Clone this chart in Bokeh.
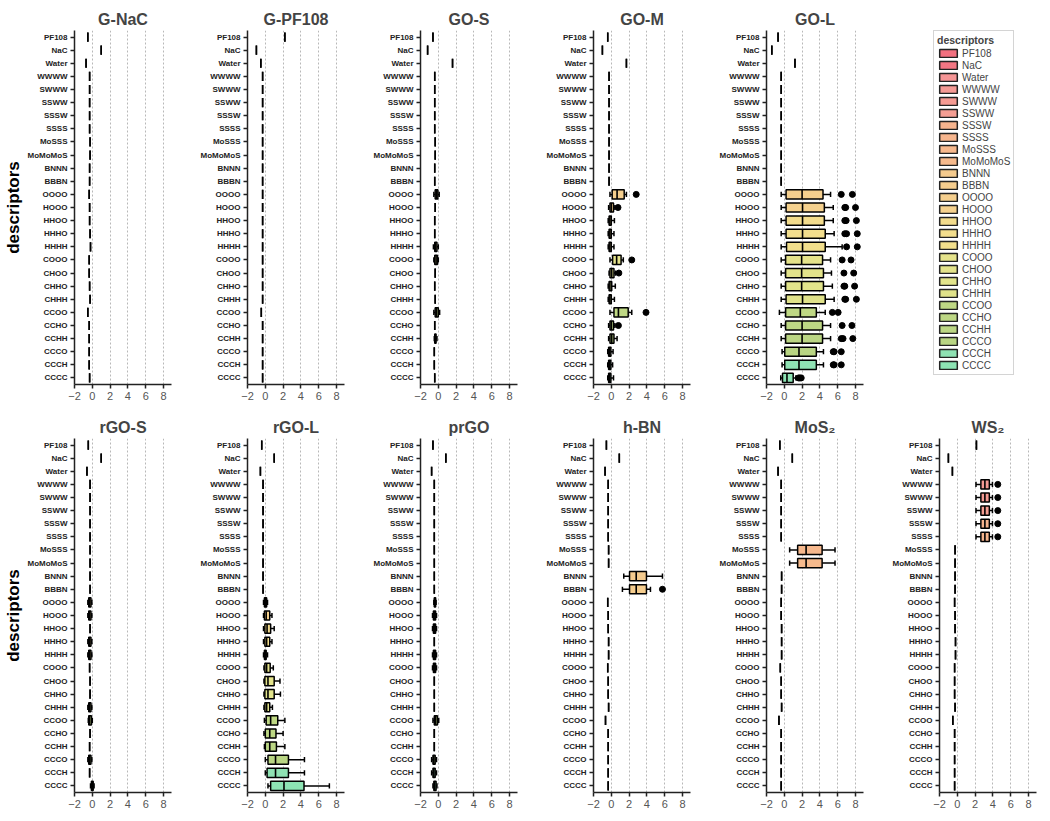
from bokeh.plotting import figure
from bokeh.models import FactorRange, Range1d, ColumnDataSource, Legend, LegendItem, FixedTicker
from bokeh.transform import dodge
from bokeh.layouts import column, row
from bokeh.embed import file_html
from bokeh.resources import INLINE

DESCRIPTORS = ["PF108", "NaC", "Water", "WWWW", "SWWW", "SSWW", "SSSW", "SSSS", "MoSSS", "MoMoMoS",
               "BNNN", "BBBN", "OOOO", "HOOO", "HHOO", "HHHO", "HHHH", "COOO", "CHOO", "CHHO",
               "CHHH", "CCOO", "CCHO", "CCHH", "CCCO", "CCCH", "CCCC"]
COLORS = ["#F2707F", "#F37683", "#F59595", "#F59A95", "#F59B93", "#F59E93", "#F6B48E", "#F6B58D",
          "#F6B88D", "#F6BA8D", "#F5CB8E", "#F5CD8E", "#F5CF8E", "#F5D18E", "#F3DC8D", "#F3DE8D",
          "#F2DF8C", "#E5E38B", "#E3E38B", "#E2E48B", "#E0E28A", "#BFD884", "#BDD784", "#BBD684",
          "#B9D583", "#8FE2B3", "#8DE4B4"]
X_TICKS = [-2, 0, 2, 4, 6, 8]

# single-value marks (one per descriptor, top to bottom)
G_NAC_BASE = [-0.5, 1.0, -0.7, -0.3, -0.3, -0.3, -0.3, -0.3, -0.25, -0.25, -0.3, -0.3, -0.35, -0.3,
              -0.3, -0.25, -0.2, -0.35, -0.35, -0.3, -0.25, -0.5, -0.35, -0.35, -0.35, -0.35, -0.3]
G_PF108_BASE = [2.2, -1.0, -0.5, -0.3, -0.3, -0.3, -0.3, -0.3, -0.3, -0.3, -0.3, -0.3, -0.3, -0.3,
                -0.3, -0.3, -0.3, -0.3, -0.3, -0.3, -0.3, -0.45, -0.3, -0.3, -0.3, -0.3, -0.3]
GO_S_BASE = [-0.6, -1.2, 1.6, -0.4, -0.4, -0.4, -0.4, -0.4, -0.35, -0.35, -0.4, -0.4, -0.3, -0.35,
             -0.4, -0.4, -0.35, -0.3, -0.35, -0.4, -0.35, -0.3, -0.4, -0.35, -0.45, -0.45, -0.4]
GO_M_BASE = [-0.4, -1.0, 1.7, -0.25, -0.25, -0.25, -0.25, -0.25, -0.25, -0.25, -0.25, -0.25, 0.6, 0.0,
             -0.15, -0.15, -0.15, 0.6, 0.05, -0.15, -0.15, 0.8, 0.0, 0.05, -0.2, -0.2, -0.2]
GO_L_BASE = [-0.7, -1.4, 1.2, -0.35, -0.35, -0.35, -0.35, -0.35, -0.35, -0.35, -0.35, -0.35, 2.0, 2.0,
             2.0, 2.0, 2.0, 2.0, 2.0, 2.0, 2.0, 1.8, 2.0, 2.0, 1.65, 1.65, 0.3]
RGO_S_BASE = [-0.45, 1.0, -0.6, -0.25, -0.25, -0.25, -0.25, -0.25, -0.25, -0.25, -0.25, -0.25, -0.3, -0.3,
              -0.25, -0.3, -0.3, -0.3, -0.25, -0.25, -0.3, -0.3, -0.25, -0.3, -0.3, -0.3, 0.0]
RGO_L_BASE = [-0.4, 1.0, -0.55, -0.25, -0.25, -0.25, -0.25, -0.25, -0.25, -0.25, -0.25, -0.25, 0.0, 0.1,
              0.2, 0.15, 0.0, 0.15, 0.3, 0.3, 0.15, 0.6, 0.5, 0.5, 1.15, 1.15, 2.1]
PRGO_BASE = [-0.6, 0.85, -0.75, -0.45, -0.45, -0.45, -0.45, -0.45, -0.45, -0.45, -0.45, -0.45, -0.4, -0.45,
             -0.45, -0.45, -0.45, -0.45, -0.45, -0.45, -0.45, -0.3, -0.45, -0.45, -0.5, -0.5, -0.4]
HBN_BASE = [-0.55, 0.9, -0.7, -0.35, -0.35, -0.35, -0.35, -0.35, -0.3, -0.3, 2.8, 2.8, -0.4, -0.35,
            -0.35, -0.3, -0.3, -0.4, -0.35, -0.35, -0.3, -0.65, -0.35, -0.35, -0.35, -0.35, -0.35]
MOS2_BASE = [-0.5, 0.9, -0.7, -0.35, -0.35, -0.35, -0.35, -0.35, 2.45, 2.45, -0.3, -0.3, -0.35, -0.35,
             -0.3, -0.3, -0.3, -0.45, -0.35, -0.35, -0.3, -0.6, -0.35, -0.35, -0.35, -0.35, -0.35]
WS2_BASE = [2.15, -1.0, -0.55, 3.1, 3.1, 3.1, 3.1, 3.1, -0.25, -0.25, -0.25, -0.25, -0.3, -0.25,
            -0.25, -0.2, -0.2, -0.3, -0.3, -0.3, -0.25, -0.5, -0.3, -0.3, -0.3, -0.3, -0.3]

# box statistics: (whisker low, q1, median, q3, whisker high, outliers)
G_NAC_BOXES = {}
G_PF108_BOXES = {}
GO_S_BOXES = {
    "OOOO": (-0.5, -0.35, -0.2, -0.05, 0.1, []),
    "HHHH": (-0.55, -0.4, -0.3, -0.15, 0.0, []),
    "COOO": (-0.5, -0.4, -0.25, -0.1, 0.0, []),
    "CCOO": (-0.5, -0.35, -0.2, 0.0, 0.15, []),
    "CCHH": (-0.45, -0.4, -0.35, -0.25, -0.15, []),
}
GO_M_BOXES = {
    "OOOO": (-0.15, 0.1, 0.65, 1.45, 1.7, [2.8]),
    "HOOO": (-0.3, -0.15, 0.0, 0.25, 0.4, [0.75]),
    "HHOO": (-0.35, -0.25, -0.15, 0.0, 0.35, []),
    "HHHO": (-0.35, -0.25, -0.15, 0.0, 0.3, []),
    "HHHH": (-0.35, -0.25, -0.15, 0.0, 0.3, []),
    "COOO": (-0.15, 0.15, 0.6, 1.1, 1.35, [2.3]),
    "CHOO": (-0.25, -0.15, 0.05, 0.3, 0.45, [0.85]),
    "CHHO": (-0.35, -0.25, -0.15, 0.05, 0.45, []),
    "CHHH": (-0.35, -0.25, -0.15, 0.0, 0.35, []),
    "CCOO": (-0.15, 0.3, 0.8, 1.9, 2.3, [3.9]),
    "CCHO": (-0.3, -0.15, 0.0, 0.25, 0.4, [0.8]),
    "CCHH": (-0.3, -0.15, 0.05, 0.3, 0.65, []),
    "CCCO": (-0.4, -0.3, -0.2, -0.05, 0.2, []),
    "CCCH": (-0.4, -0.3, -0.2, -0.05, 0.15, []),
    "CCCC": (-0.4, -0.3, -0.2, -0.05, 0.25, []),
}
GO_L_BOXES = {
    "OOOO": (-0.35, 0.2, 2.0, 4.35, 5.2, [6.4, 7.65]),
    "HOOO": (-0.35, 0.2, 2.05, 4.5, 5.5, [6.8, 6.9, 8.0]),
    "HHOO": (-0.35, 0.2, 2.05, 4.5, 5.5, [6.8, 6.95, 8.1]),
    "HHHO": (-0.35, 0.2, 2.05, 4.6, 5.6, [6.8, 7.0, 8.2]),
    "HHHH": (-0.35, 0.25, 2.05, 4.6, 6.5, [7.0, 8.2]),
    "COOO": (-0.35, 0.15, 1.95, 4.3, 5.2, [6.5, 7.5]),
    "CHOO": (-0.35, 0.15, 1.95, 4.4, 5.3, [6.7, 7.8]),
    "CHHO": (-0.35, 0.15, 1.95, 4.4, 5.4, [6.7, 6.8, 7.9]),
    "CHHH": (-0.35, 0.2, 2.05, 4.6, 5.6, [6.8, 6.9, 8.1]),
    "CCOO": (-0.55, 0.15, 1.8, 3.6, 4.6, [5.4, 6.05]),
    "CCHO": (-0.35, 0.15, 2.0, 4.3, 5.2, [6.5, 7.6]),
    "CCHH": (-0.35, 0.15, 2.0, 4.3, 5.2, [6.4, 6.6, 7.7]),
    "CCCO": (-0.25, 0.05, 1.65, 3.6, 4.4, [5.5, 5.6, 6.4]),
    "CCCH": (-0.25, 0.05, 1.65, 3.6, 4.4, [5.5, 5.6, 6.4]),
    "CCCC": (-0.4, -0.2, 0.3, 1.0, 1.3, [1.6, 1.75, 1.9]),
}
RGO_S_BOXES = {
    "OOOO": (-0.5, -0.4, -0.3, -0.15, -0.05, []),
    "HOOO": (-0.5, -0.4, -0.3, -0.15, -0.05, []),
    "HHHO": (-0.5, -0.4, -0.3, -0.15, -0.05, []),
    "HHHH": (-0.5, -0.4, -0.3, -0.15, -0.05, []),
    "CHHH": (-0.5, -0.4, -0.3, -0.15, -0.05, []),
    "CCOO": (-0.45, -0.4, -0.3, -0.1, 0.0, []),
    "CCCO": (-0.5, -0.4, -0.3, -0.15, -0.05, []),
    "CCCC": (-0.2, -0.1, 0.0, 0.1, 0.2, []),
}
RGO_L_BOXES = {
    "OOOO": (-0.2, -0.1, 0.0, 0.15, 0.25, []),
    "HOOO": (-0.2, -0.1, 0.1, 0.5, 0.75, []),
    "HHOO": (-0.2, -0.05, 0.2, 0.6, 1.0, []),
    "HHHO": (-0.2, -0.05, 0.15, 0.5, 0.75, []),
    "HHHH": (-0.2, -0.1, 0.0, 0.1, 0.25, []),
    "COOO": (-0.15, -0.05, 0.15, 0.55, 0.9, []),
    "CHOO": (-0.15, -0.05, 0.3, 1.0, 1.65, []),
    "CHHO": (-0.15, -0.05, 0.3, 1.0, 1.7, []),
    "CHHH": (-0.15, -0.05, 0.15, 0.5, 0.8, []),
    "CCOO": (-0.1, 0.1, 0.6, 1.4, 2.2, []),
    "CCHO": (-0.15, 0.0, 0.5, 1.2, 2.0, []),
    "CCHH": (-0.1, 0.0, 0.5, 1.25, 2.2, []),
    "CCCO": (0.0, 0.3, 1.15, 2.6, 4.4, []),
    "CCCH": (0.0, 0.2, 1.15, 2.6, 4.4, []),
    "CCCC": (0.3, 0.6, 2.1, 4.35, 7.2, []),
}
PRGO_BOXES = {
    "OOOO": (-0.5, -0.45, -0.4, -0.3, -0.25, []),
    "HOOO": (-0.65, -0.55, -0.45, -0.3, -0.2, []),
    "HHOO": (-0.65, -0.55, -0.45, -0.3, -0.2, []),
    "HHHH": (-0.65, -0.55, -0.45, -0.3, -0.2, []),
    "COOO": (-0.65, -0.55, -0.45, -0.3, -0.2, []),
    "CCOO": (-0.6, -0.45, -0.3, -0.1, 0.05, []),
    "CCCO": (-0.75, -0.6, -0.5, -0.35, -0.2, []),
    "CCCH": (-0.75, -0.6, -0.5, -0.35, -0.2, []),
    "CCCC": (-0.6, -0.5, -0.4, -0.25, -0.15, []),
}
HBN_BOXES = {
    "BNNN": (1.4, 2.05, 2.8, 3.95, 5.75, []),
    "BBBN": (1.25, 2.05, 2.8, 3.95, 4.4, [5.75]),
}
MOS2_BOXES = {
    "MoSSS": (0.6, 1.5, 2.45, 4.25, 5.7, []),
    "MoMoMoS": (0.6, 1.5, 2.45, 4.25, 5.7, []),
}
WS2_BOXES = {
    "WWWW": (2.1, 2.65, 3.1, 3.6, 3.95, [4.55]),
    "SWWW": (2.1, 2.65, 3.1, 3.6, 3.95, [4.55]),
    "SSWW": (2.1, 2.65, 3.1, 3.6, 3.95, [4.55]),
    "SSSW": (2.1, 2.65, 3.1, 3.6, 3.95, [4.55]),
    "SSSS": (2.1, 2.65, 3.1, 3.6, 3.95, [4.55]),
}

TOP_PANELS = [("G-NaC", G_NAC_BASE, G_NAC_BOXES), ("G-PF108", G_PF108_BASE, G_PF108_BOXES),
              ("GO-S", GO_S_BASE, GO_S_BOXES), ("GO-M", GO_M_BASE, GO_M_BOXES),
              ("GO-L", GO_L_BASE, GO_L_BOXES)]
BOTTOM_PANELS = [("rGO-S", RGO_S_BASE, RGO_S_BOXES), ("rGO-L", RGO_L_BASE, RGO_L_BOXES),
                 ("prGO", PRGO_BASE, PRGO_BOXES), ("h-BN", HBN_BASE, HBN_BOXES),
                 ("MoS\u2082", MOS2_BASE, MOS2_BOXES), ("WS\u2082", WS2_BASE, WS2_BOXES)]

FONT = "Liberation Sans"
TOP_BORDER_TOP = 30
TOP_BORDER_BOTTOM = 29


def make_panel(title, base, boxes, first_col, top_row):
    p = figure(y_range=FactorRange(factors=list(reversed(DESCRIPTORS))),
               x_range=Range1d(-2, 8.9),
               frame_width=97, frame_height=354,
               min_border_left=71 if first_col else 70, min_border_right=6,
               min_border_top=TOP_BORDER_TOP if top_row else 22,
               min_border_bottom=TOP_BORDER_BOTTOM if top_row else 14,
               output_backend="svg", toolbar_location=None, title=title)
    cat, lo, q1, med, q3, hi, col = [], [], [], [], [], [], []
    ox, oy = [], []
    for d, c, b in zip(DESCRIPTORS, COLORS, base):
        if d in boxes:
            w0, a, m, z, w1, outs = boxes[d]
        else:
            w0, a, m, z, w1, outs = b, b, b, b, b, []
        cat.append(d); lo.append(w0); q1.append(a); med.append(m); q3.append(z); hi.append(w1); col.append(c)
        for o in outs:
            ox.append(o); oy.append(d)
    src = ColumnDataSource(dict(cat=cat, lo=lo, q1=q1, med=med, q3=q3, hi=hi, color=col))
    keep = [i for i in range(len(cat)) if lo[i] != hi[i]]
    wsrc = ColumnDataSource(dict(cat=[cat[i] for i in keep], lo=[lo[i] for i in keep],
                                 q1=[q1[i] for i in keep], q3=[q3[i] for i in keep],
                                 hi=[hi[i] for i in keep]))
    yr = p.y_range
    p.segment(x0="lo", y0="cat", x1="q1", y1="cat", source=wsrc, line_color="black", line_width=1.5)
    p.segment(x0="q3", y0="cat", x1="hi", y1="cat", source=wsrc, line_color="black", line_width=1.5)
    p.segment(x0="lo", y0=dodge("cat", -0.2, range=yr), x1="lo", y1=dodge("cat", 0.2, range=yr),
              source=wsrc, line_color="black", line_width=1.5)
    p.segment(x0="hi", y0=dodge("cat", -0.2, range=yr), x1="hi", y1=dodge("cat", 0.2, range=yr),
              source=wsrc, line_color="black", line_width=1.5)
    p.hbar(y="cat", left="q1", right="q3", height=0.7, source=src, fill_color="color",
           line_color="black", line_width=1.5)
    p.segment(x0="med", y0=dodge("cat", -0.35, range=yr), x1="med", y1=dodge("cat", 0.35, range=yr),
              source=src, line_color="black", line_width=1.6)
    if ox:
        p.scatter(x=ox, y=oy, size=6, color="black")

    p.outline_line_color = None
    p.ygrid.visible = False
    p.xgrid.grid_line_color = "#b8b8b8"
    p.xgrid.grid_line_dash = "2 2"
    p.xgrid.grid_line_width = 1
    p.xaxis.ticker = FixedTicker(ticks=X_TICKS)
    p.xaxis.minor_tick_line_color = None
    p.xaxis.major_label_text_font = FONT
    p.xaxis.major_label_text_font_size = "11px"
    p.xaxis.major_label_text_color = "#555555"
    p.xaxis.major_label_standoff = 3
    for ax in (p.xaxis, p.yaxis):
        ax.axis_line_width = 1.5
        ax.axis_line_color = "#222222"
        ax.major_tick_line_width = 1.5
        ax.major_tick_line_color = "#222222"
        ax.major_tick_out = 4
        ax.major_tick_in = 0
    p.yaxis.major_label_text_font = FONT
    p.yaxis.major_label_text_font_size = "8px"
    p.yaxis.major_label_text_font_style = "bold"
    p.yaxis.major_label_text_color = "#222222"
    p.yaxis.major_label_standoff = 3
    if first_col:
        p.yaxis.axis_label = "descriptors"
        p.yaxis.axis_label_text_font = FONT
        p.yaxis.axis_label_text_font_size = "17px"
        p.yaxis.axis_label_text_font_style = "bold"
        p.yaxis.axis_label_text_color = "black"
        p.yaxis.axis_label_standoff = 2
    p.title.align = "center"
    p.title.text_font = FONT
    p.title.text_font_size = "16px"
    p.title.text_font_style = "bold"
    p.title.standoff = 6
    return p


top = [make_panel(t, b, bx, i == 0, True) for i, (t, b, bx) in enumerate(TOP_PANELS)]
bottom = [make_panel(t, b, bx, i == 0, False) for i, (t, b, bx) in enumerate(BOTTOM_PANELS)]

# legend panel (frame shares the row's frame height, so the legend is sized to fit it)
lp = figure(width=173, height=TOP_BORDER_TOP + 354 + TOP_BORDER_BOTTOM,
            x_range=Range1d(0, 1), y_range=Range1d(0, 1),
            x_axis_location=None, y_axis_location=None,
            output_backend="svg", toolbar_location=None,
            min_border_left=64, min_border_right=0, min_border_top=TOP_BORDER_TOP,
            min_border_bottom=TOP_BORDER_BOTTOM)
lp.outline_line_color = None
lp.grid.visible = False
items = []
for d, c in zip(DESCRIPTORS, COLORS):
    r = lp.rect(x=[5], y=[5], width=1, height=1, fill_color=c, line_color="#222222", line_width=1.5)
    items.append(LegendItem(label=d, renderers=[r]))
legend = Legend(items=items, location="top_left", title="descriptors", margin=0, padding=3,
                spacing=0, label_height=12, glyph_height=10, glyph_width=22, label_standoff=3,
                ncols=1, label_text_font=FONT, label_text_font_size="10px",
                title_text_font=FONT, title_text_font_size="10.5px", title_text_font_style="bold",
                title_standoff=1, border_line_color="#aaaaaa", border_line_width=1)
lp.add_layout(legend, "center")

layout = column(row(*top, lp), row(*bottom))
open("out.html", "w").write(file_html(layout, INLINE))
